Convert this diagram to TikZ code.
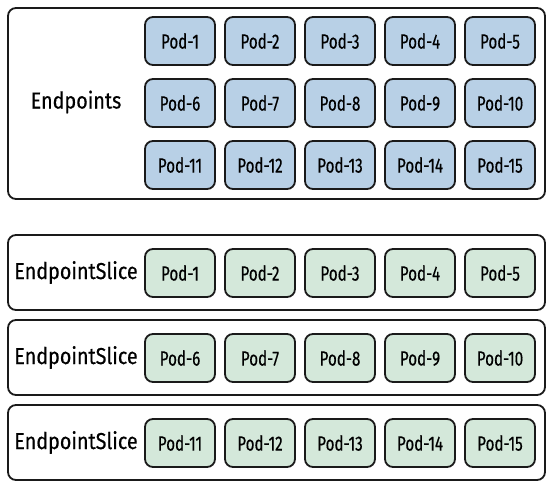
\documentclass[tikz,border=0pt]{standalone}
\usepackage{fontspec}
\setmainfont{Fira Sans}
\newfontfamily\podfont{Fira Sans}[FakeStretch=0.74,FakeBold=0.4]
\newfontfamily\labfont{Fira Sans}[FakeStretch=0.86,FakeBold=0.4]
\definecolor{podblue}{HTML}{B8D0E6}
\definecolor{podgreen}{HTML}{D4E8DA}
\definecolor{edge}{HTML}{1A1A1A}
\begin{document}
\begin{tikzpicture}[x=1pt,y=-1pt,
  outerbox/.style={draw=edge,line width=1.8pt,rounded corners=8pt,fill=white},
  pod/.style={draw=edge,line width=1.8pt,rounded corners=8pt,minimum width=70pt,minimum height=48pt,inner sep=0pt,font=\podfont\fontsize{20.5}{24}\selectfont},
  bluepod/.style={pod,fill=podblue},
  greenpod/.style={pod,fill=podgreen},
  biglabel/.style={font=\labfont\fontsize{23}{27}\selectfont,inner sep=0pt}]
\useasboundingbox (0,0) rectangle (556,489);
% Endpoints box
\draw[outerbox] (8,8) rectangle (545,199);
\node[biglabel] (ep) at (76,102) {Endpoints};
\foreach \r in {0,1,2}{
  \foreach \c in {1,...,5}{
    \pgfmathtruncatemacro{\n}{\r*5+\c}
    \node[bluepod] (b\n) at (100+80*\c, 41+62*\r) {Pod-\n};
  }
}
% EndpointSlice boxes
\foreach \r in {0,1,2}{
  \draw[outerbox] (8,235+85*\r) rectangle (545,310+85*\r);
  \node[biglabel] (es\r) at (76,272.5+85*\r) {EndpointSlice};
  \foreach \c in {1,...,5}{
    \pgfmathtruncatemacro{\n}{\r*5+\c}
    \node[greenpod] (g\n) at (100+80*\c, 273+85*\r) {Pod-\n};
  }
}
\end{tikzpicture}
\end{document}
